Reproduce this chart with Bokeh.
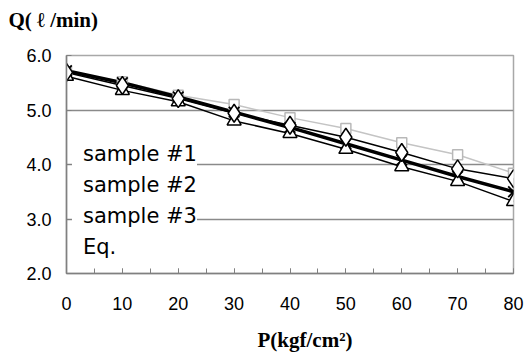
from bokeh.plotting import figure
from bokeh.models import (Legend, LegendItem, Title, SingleIntervalTicker, FixedTicker,
                          Range1d, CustomJSTickFormatter)
from bokeh.embed import file_html
from bokeh.resources import INLINE

pressure = [0, 10, 20, 30, 40, 50, 60, 70, 80]
sample1 = [5.69, 5.45, 5.21, 4.94, 4.72, 4.50, 4.22, 3.92, 3.74]
sample2 = [5.70, 5.52, 5.27, 5.10, 4.86, 4.66, 4.40, 4.18, 3.84]
sample3 = [5.62, 5.36, 5.15, 4.80, 4.57, 4.28, 3.96, 3.69, 3.32]
eq = [5.72, 5.50, 5.24, 4.96, 4.68, 4.38, 4.08, 3.78, 3.50]
legend_labels = ["sample #1", "sample #2", "sample #3", "Eq."]
y_ticks = [2.0, 3.0, 4.0, 5.0, 6.0]

p = figure(width=531, height=355, output_backend="svg", toolbar_location=None,
           title=None,
           x_range=Range1d(0, 80), y_range=Range1d(2, 6),
           min_border_left=66, min_border_right=18, min_border_top=55, min_border_bottom=82)
p.background_fill_color = "white"
p.border_fill_color = "white"
p.outline_line_color = "#a8a8a8"
p.outline_line_width = 1.5

title_font = dict(text_font="Liberation Serif", text_font_style="bold",
                  text_font_size="21px", text_color="black")

# spacer + title (y quantity) at top-left
p.add_layout(Title(text=" ", text_font_size="1px", standoff=21), "above")
p.add_layout(Title(text="Q( ℓ /min)", align="left", offset=-58, standoff=0,
                   **title_font), "above")

# axes
p.xaxis.ticker = SingleIntervalTicker(interval=10, num_minor_ticks=2)
p.yaxis.ticker = FixedTicker(ticks=y_ticks)
p.yaxis.formatter = CustomJSTickFormatter(code="return tick.toFixed(1);")
for ax in (p.xaxis, p.yaxis):
    ax.axis_line_color = "#808080"
    ax.axis_line_width = 1.5
    ax.major_tick_line_color = "#808080"
    ax.minor_tick_line_color = "#808080"
    ax.major_label_text_font = "Liberation Sans"
    ax.major_label_text_font_size = "18px"
    ax.major_label_text_color = "black"
p.xaxis.major_tick_in = 5
p.xaxis.major_tick_out = 0
p.xaxis.minor_tick_in = 5
p.xaxis.minor_tick_out = 0
p.xaxis.major_label_standoff = 23
p.yaxis.major_tick_in = 5
p.yaxis.major_tick_out = 0
p.yaxis.minor_tick_line_color = None
p.yaxis.major_label_standoff = 15

# spacer + x quantity below the axis
p.add_layout(Title(text=" ", text_font_size="1px", standoff=10), "below")
p.add_layout(Title(text="P(kgf/cm²)", align="left", offset=191, standoff=0,
                   **title_font), "below")

p.xgrid.grid_line_color = None
p.ygrid.ticker = FixedTicker(ticks=y_ticks)
p.ygrid.grid_line_color = "#8a8a8a"
p.ygrid.grid_line_width = 1.5

# lines
p.line(pressure, sample2, line_color="#c4c4c4", line_width=1.5)
p.line(pressure, eq, line_color="black", line_width=3.5)
p.line(pressure, sample1, line_color="black", line_width=1.5)
p.line(pressure, sample3, line_color="black", line_width=1.5)

# markers
p.scatter(pressure, sample2, marker="square", size=10, fill_color="white",
          line_color="#b8b8b8", line_width=1.5)
p.scatter(pressure, eq, marker="x", size=15, line_color="black", line_width=1.8)
p.scatter(pressure, sample3, marker="triangle", size=14, fill_color="white",
          line_color="black", line_width=1.5)
p.scatter(pressure, sample1, marker="diamond", size=18, fill_color="white",
          line_color="black", line_width=1.5)

# legend (text only)
items = []
for lab, ys in zip(legend_labels, [sample1, sample2, sample3, eq]):
    r = p.line(pressure, ys, line_alpha=0)
    items.append(LegendItem(label=lab, renderers=[r]))
legend = Legend(items=items, location=(6, 11), glyph_width=1, glyph_height=31,
                label_height=31, label_standoff=10, spacing=0, padding=6, margin=0,
                border_line_color=None, background_fill_color="white",
                background_fill_alpha=1.0,
                label_text_font="DejaVu Sans", label_text_font_size="21px",
                label_text_color="black")
p.add_layout(legend, "center")

open("out.html", "w").write(file_html(p, INLINE))
